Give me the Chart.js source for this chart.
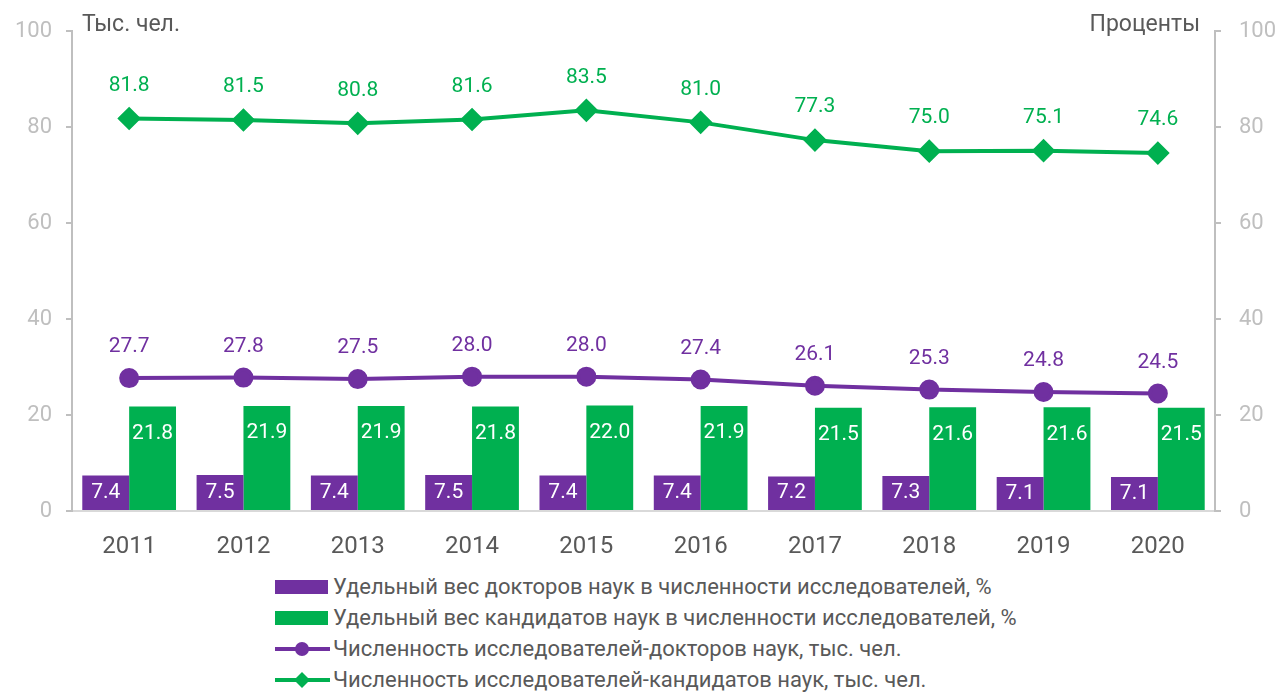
<!DOCTYPE html>
<html>
<head>
<meta charset="utf-8">
<script src="https://cdn.jsdelivr.net/npm/chart.js@4/dist/chart.umd.min.js"></script>
<style>
  html, body { margin: 0; padding: 0; background: #fff; }
  #wrap { position: relative; width: 1276px; height: 565px; }
  #legend { position: absolute; left: 275px; top: 571px; font-family: 'Liberation Sans Narrow', 'Roboto', sans-serif; font-size: 22px; color: #595959; }
  #legend div { height: 31px; display: flex; align-items: center; white-space: nowrap; }
  #legend svg { margin-right: 3px; }
</style>
</head>
<body>
<div id="wrap"><canvas id="chart"></canvas></div>
<div id="legend"></div>
<script>
  'use strict';

  var FONT = "'Liberation Sans Narrow', 'Roboto', sans-serif";
  var PURPLE = '#7030a0';
  var GREEN = '#00b050';

  // Categories.
  var years = ['2011', '2012', '2013', '2014', '2015', '2016', '2017', '2018', '2019', '2020'];

  // Shares, percent (bars, right axis).
  var shareDoctors = [7.4, 7.5, 7.4, 7.5, 7.4, 7.4, 7.2, 7.3, 7.1, 7.1];
  var shareCandidates = [21.8, 21.9, 21.9, 21.8, 22.0, 21.9, 21.5, 21.6, 21.6, 21.5];

  // Headcount, thousand people (lines, left axis).
  var numDoctors = [27.7, 27.8, 27.5, 28.0, 28.0, 27.4, 26.1, 25.3, 24.8, 24.5];
  var numCandidates = [81.8, 81.5, 80.8, 81.6, 83.5, 81.0, 77.3, 75.0, 75.1, 74.6];

  // Axis ticks.
  var axisTicks = [0, 20, 40, 60, 80, 100];

  // Draw value labels for every dataset.
  var valueLabels = {
    id: 'valueLabels',
    afterDatasetsDraw: function (chart) {
      var ctx = chart.ctx;
      ctx.save();
      ctx.font = '21px ' + FONT;
      ctx.textAlign = 'center';
      ctx.textBaseline = 'middle';
      chart.data.datasets.forEach(function (ds, i) {
        var meta = chart.getDatasetMeta(i);
        meta.data.forEach(function (el, j) {
          var text = ds.data[j].toFixed(1);
          var y;
          if (ds.type === 'bar') {
            ctx.fillStyle = '#ffffff';
            y = ds.labelPos === 'center' ? (el.y + el.base) / 2 : el.y + 27;
          }
          else {
            ctx.fillStyle = ds.borderColor;
            y = el.y - ds.labelOffset;
          }
          ctx.fillText(text, el.x, y);
        });
      });
      ctx.restore();
    }
  };

  // Axis captions above the plot.
  var axisCaptions = {
    id: 'axisCaptions',
    afterDraw: function (chart) {
      var ctx = chart.ctx;
      var area = chart.chartArea;
      ctx.save();
      ctx.font = '23px ' + FONT;
      ctx.fillStyle = '#595959';
      ctx.textBaseline = 'middle';
      ctx.textAlign = 'left';
      ctx.fillText('Тыс. чел.', area.left + 10, 25);
      ctx.textAlign = 'right';
      ctx.fillText('Проценты', area.right - 15, 25);
      ctx.restore();
    }
  };

  function yAxis(position, width, padding) {
    return {
      position: position,
      min: 0,
      max: 100,
      afterBuildTicks: function (axis) {
        axis.ticks = axisTicks.map(function (v) { return {value: v}; });
      },
      afterFit: function (axis) { axis.width = width; },
      grid: {drawOnChartArea: false, drawTicks: true, tickLength: 6, color: '#bfbfbf', lineWidth: 2},
      border: {color: '#bfbfbf', width: 2},
      ticks: {color: '#bfbfbf', font: {family: FONT, size: 22}, padding: padding}
    };
  }

  var datasets = [
    {
      type: 'line', label: 'Численность исследователей-докторов наук, тыс. чел.',
      data: numDoctors, yAxisID: 'yLeft', order: 0,
      borderColor: PURPLE, backgroundColor: PURPLE, borderWidth: 4,
      pointStyle: 'circle', pointRadius: 8, labelOffset: 31
    },
    {
      type: 'line', label: 'Численность исследователей-кандидатов наук, тыс. чел.',
      data: numCandidates, yAxisID: 'yLeft', order: 0,
      borderColor: GREEN, backgroundColor: GREEN, borderWidth: 4,
      pointStyle: 'rectRot', pointRadius: 9, labelOffset: 33
    },
    {
      type: 'bar', label: 'Удельный вес докторов наук в численности исследователей, %',
      data: shareDoctors, yAxisID: 'yRight', order: 1,
      backgroundColor: PURPLE, labelPos: 'center'
    },
    {
      type: 'bar', label: 'Удельный вес кандидатов наук в численности исследователей, %',
      data: shareCandidates, yAxisID: 'yRight', order: 1,
      backgroundColor: GREEN, labelPos: 'top'
    }
  ];

  new Chart(document.getElementById('chart'), {
    data: {labels: years, datasets: datasets},
    options: {
      responsive: true,
      maintainAspectRatio: false,
      animation: false,
      layout: {padding: {top: 31, left: 0, right: 0, bottom: 0}},
      datasets: {bar: {categoryPercentage: 0.82, barPercentage: 1}},
      plugins: {legend: {display: false}, tooltip: {enabled: false}},
      scales: {
        x: {
          afterFit: function (axis) { axis.height = 54; },
          grid: {display: false},
          border: {color: '#d9d9d9', width: 2},
          ticks: {color: '#595959', font: {family: FONT, size: 24}, padding: 14}
        },
        yLeft: yAxis('left', 72, 14),
        yRight: yAxis('right', 61, 18)
      }
    },
    plugins: [valueLabels, axisCaptions]
  });

  // Legend: bars first, then lines, one per row.
  var legendOrder = [2, 3, 0, 1];
  var legend = document.getElementById('legend');
  legendOrder.forEach(function (i) {
    var ds = datasets[i];
    var c = ds.type === 'bar' ? ds.backgroundColor : ds.borderColor;
    var svg;
    if (ds.type === 'bar') {
      svg = '<svg width="55" height="20"><rect x="0" y="3" width="53" height="14" fill="' + c + '"/></svg>';
    }
    else if (ds.pointStyle === 'circle') {
      svg = '<svg width="55" height="20"><line x1="0" y1="10" x2="55" y2="10" stroke="' + c + '" stroke-width="4"/>' +
        '<circle cx="27" cy="10" r="7" fill="' + c + '"/></svg>';
    }
    else {
      svg = '<svg width="55" height="20"><line x1="0" y1="10" x2="55" y2="10" stroke="' + c + '" stroke-width="4"/>' +
        '<polygon points="27,2 35,10 27,18 19,10" fill="' + c + '"/></svg>';
    }
    var row = document.createElement('div');
    row.innerHTML = svg + '<span>' + ds.label + '</span>';
    legend.appendChild(row);
  });
</script>
</body>
</html>
